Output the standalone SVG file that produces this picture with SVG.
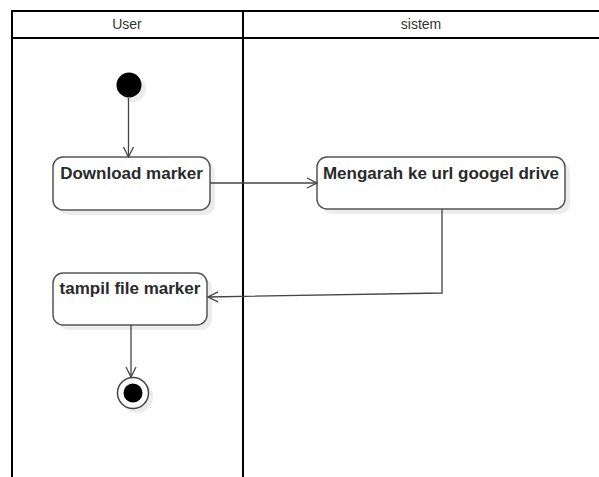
<svg xmlns="http://www.w3.org/2000/svg" width="599" height="477" viewBox="0 0 599 477">
<defs>
<style>
.lane{fill:none;stroke:#000;stroke-width:2}
.hdr{font-family:"Liberation Sans",Arial,sans-serif;font-size:14px;fill:#333;text-anchor:middle}
.box{fill:#fff;stroke:#555;stroke-width:1.5}
.shadow{fill:#ececec}
.lbl{font-family:"Liberation Sans",Arial,sans-serif;font-size:17px;font-weight:bold;fill:#2a2a2a;text-anchor:middle}
.edge{fill:none;stroke:#444;stroke-width:1.3}
</style>
<marker id="arr" viewBox="0 0 12 12" refX="11" refY="6" markerWidth="12" markerHeight="12" markerUnits="userSpaceOnUse" orient="auto">
<path d="M1,1 L11,6 L1,11" fill="none" stroke="#444" stroke-width="1.3"/>
</marker>
</defs>
<rect width="599" height="477" fill="#fff"/>
<g id="swimlanes">
<rect class="lane" x="12" y="11" width="600" height="480"/>
<line class="lane" x1="12" y1="38" x2="612" y2="38"/>
<line class="lane" x1="243" y1="11" x2="243" y2="480"/>
<text class="hdr" x="127" y="29">User</text>
<text class="hdr" x="421" y="29">sistem</text>
</g>
<g id="start">
<circle class="shadow" cx="133" cy="89" r="13"/>
<circle cx="129" cy="85" r="12.5" fill="#000"/>
</g>
<g id="download">
<rect class="shadow" x="58" y="162" width="157" height="53" rx="10"/>
<rect class="box" x="53" y="157" width="157" height="53" rx="10"/>
<text class="lbl" x="131.5" y="179">Download marker</text>
</g>
<g id="mengarah">
<rect class="shadow" x="322" y="162" width="248" height="52" rx="10"/>
<rect class="box" x="317" y="157" width="248" height="52" rx="10"/>
<text class="lbl" x="441" y="179">Mengarah ke url googel drive</text>
</g>
<g id="tampil">
<rect class="shadow" x="58" y="278" width="154" height="52" rx="10"/>
<rect class="box" x="53" y="273" width="154" height="52" rx="10"/>
<text class="lbl" x="130" y="294">tampil file marker</text>
</g>
<g id="end">
<circle class="shadow" cx="137" cy="397" r="16"/>
<circle cx="133" cy="393" r="15.5" fill="#fff" stroke="#444" stroke-width="1.5"/>
<circle cx="133" cy="393" r="9.5" fill="#000"/>
</g>
<g id="connectors">
<line class="edge" x1="128.5" y1="98" x2="128.5" y2="157" marker-end="url(#arr)"/>
<line class="edge" x1="210" y1="183" x2="317" y2="183" marker-end="url(#arr)"/>
<polyline class="edge" points="442,209 442,293 208,297" marker-end="url(#arr)"/>
<line class="edge" x1="131" y1="325" x2="131" y2="377" marker-end="url(#arr)"/>
</g>
</svg>
